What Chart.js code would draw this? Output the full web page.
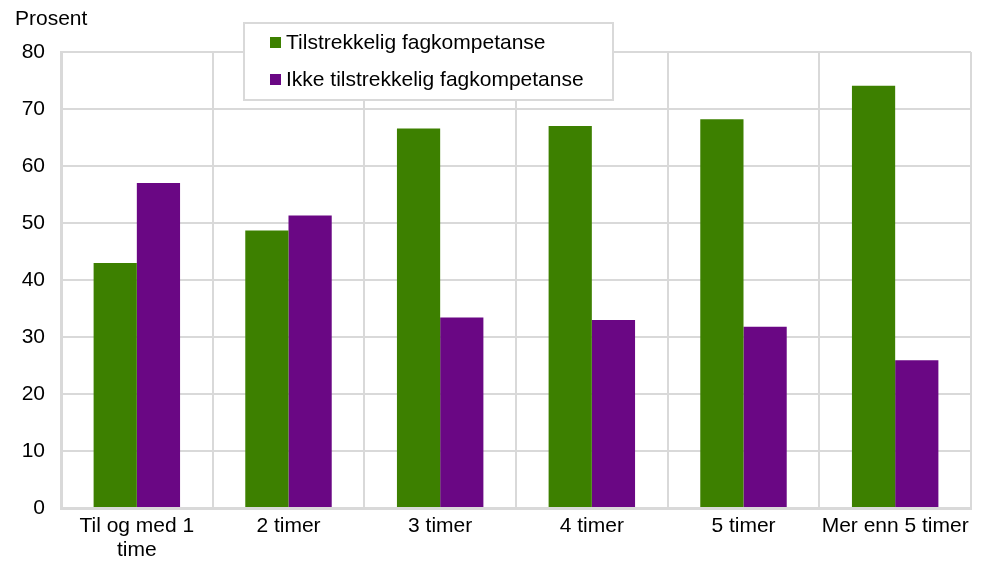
<!DOCTYPE html>
<html>
<head>
<meta charset="utf-8">
<script src="https://cdn.jsdelivr.net/npm/chart.js@4"></script>
<style>
  html, body { margin: 0; padding: 0; background: #fff; }
  #wrap { width: 985px; height: 563px; position: relative; }
</style>
</head>
<body>
<div id="wrap"><canvas id="chart"></canvas></div>
<script>
const categories = [['Til og med 1', 'time'], '2 timer', '3 timer', '4 timer', '5 timer', 'Mer enn 5 timer'];
const tilstrekkelig = [43.0, 48.7, 66.6, 67.0, 68.2, 74.1];
const ikkeTilstrekkelig = [57.0, 51.3, 33.4, 33.0, 31.8, 25.9];
const seriesNames = ['Tilstrekkelig fagkompetanse', 'Ikke tilstrekkelig fagkompetanse'];
const seriesColors = ['#3d8000', '#6a0784'];

const FONT = '"Liberation Sans", Arial, sans-serif';
const gridColor = '#d9d9d9';

// y-axis title and boxed legend drawn on the canvas
const extras = {
    id: 'extras',
    afterDraw(chart) {
        const ctx = chart.ctx;
        ctx.save();
        ctx.font = '21px ' + FONT;
        ctx.fillStyle = '#000';
        ctx.textBaseline = 'middle';
        ctx.textAlign = 'left';
        ctx.fillText('Prosent', 15, 19);

        // legend box
        ctx.fillStyle = '#fff';
        ctx.fillRect(244, 23, 369, 77);
        ctx.strokeStyle = gridColor;
        ctx.lineWidth = 2;
        ctx.strokeRect(244, 23, 369, 77);

        chart.data.datasets.forEach(function(ds, i) {
            const y = 42 + i * 37;
            ctx.fillStyle = ds.backgroundColor;
            ctx.fillRect(270, y - 5, 11, 11);
            ctx.fillStyle = '#000';
            ctx.fillText(ds.label, 286, y + 1);
        });
        ctx.restore();
    }
};

const ctx = document.getElementById('chart').getContext('2d');
new Chart(ctx, {
    type: 'bar',
    data: {
        labels: categories,
        datasets: [
            { label: seriesNames[0], data: tilstrekkelig, backgroundColor: seriesColors[0] },
            { label: seriesNames[1], data: ikkeTilstrekkelig, backgroundColor: seriesColors[1] }
        ]
    },
    options: {
        responsive: true,
        maintainAspectRatio: false,
        animation: false,
        datasets: {
            bar: { barPercentage: 1.0, categoryPercentage: 0.57 }
        },
        layout: { padding: { left: 0, top: 52, right: 14, bottom: 0 } },
        scales: {
            x: {
                grid: { color: gridColor, lineWidth: 2, offset: true, drawTicks: false },
                border: { color: gridColor, width: 3 },
                ticks: { color: '#000', font: { family: FONT, size: 21, lineHeight: 1.15 }, padding: 6, maxRotation: 0, autoSkip: false },
                afterFit(scale) { scale.height = 55; }
            },
            y: {
                min: 0,
                max: 80,
                grid: { color: gridColor, lineWidth: 2, drawTicks: false },
                border: { color: gridColor, width: 3 },
                ticks: { stepSize: 10, color: '#000', font: { family: FONT, size: 21 }, padding: 16 },
                afterFit(scale) { scale.width = 61; }
            }
        },
        plugins: {
            legend: { display: false },
            tooltip: { enabled: false }
        }
    },
    plugins: [extras]
});
</script>
</body>
</html>
